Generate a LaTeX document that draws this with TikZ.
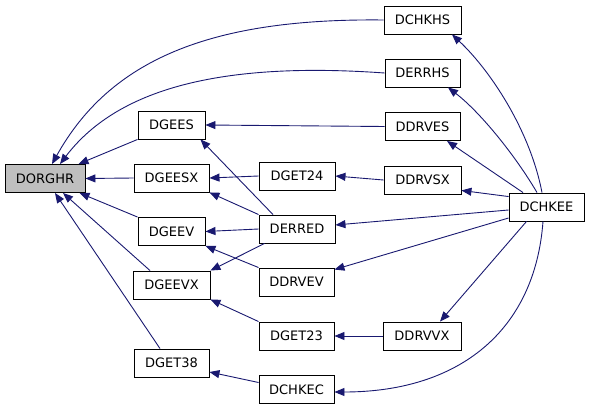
\documentclass[tikz,border=0pt]{standalone}
\usepackage{fontspec}
\setmainfont{DejaVu Sans}
\usetikzlibrary{arrows.meta}
\definecolor{edgeblue}{HTML}{191970}
\definecolor{nodegrey}{HTML}{BFBFBF}
\begin{document}
\begin{tikzpicture}[x=1pt,y=-1pt,
  box/.style={draw=black, fill=white, line width=0.9pt, minimum height=28pt, inner sep=0pt, font=\fontsize{13}{15}\selectfont},
  edge/.style={draw=edgeblue, line width=0.9pt, -{Triangle[length=10pt,width=8pt]}}]
\useasboundingbox (0,0) rectangle (589,409);
\node[box, fill=nodegrey, minimum width=80pt] (DORGHR) at (45,178.5) {DORGHR};
\node[box, minimum width=67pt] (DGEES) at (171.5,125) {DGEES};
\node[box, minimum width=75pt] (DGEESX) at (171.5,178) {DGEESX};
\node[box, minimum width=67pt] (DGEEV) at (171.5,231.5) {DGEEV};
\node[box, minimum width=77pt] (DGEEVX) at (171.5,285) {DGEEVX};
\node[box, minimum width=75pt] (DGET38) at (171.5,363) {DGET38};
\node[box, minimum width=77pt] (DCHKHS) at (422.5,20) {DCHKHS};
\node[box, minimum width=75pt] (DERRHS) at (422.5,73) {DERRHS};
\node[box, minimum width=75pt] (DDRVES) at (422.5,126.5) {DDRVES};
\node[box, minimum width=76pt] (DGET24) at (297,176) {DGET24};
\node[box, minimum width=77pt] (DDRVSX) at (422.5,180) {DDRVSX};
\node[box, minimum width=76pt] (DERRED) at (297,229) {DERRED};
\node[box, minimum width=75pt] (DDRVEV) at (296.5,282) {DDRVEV};
\node[box, minimum width=75pt] (DGET23) at (296.5,336) {DGET23};
\node[box, minimum width=78pt] (DDRVVX) at (422,336) {DDRVVX};
\node[box, minimum width=75pt] (DCHKEC) at (296.5,389.5) {DCHKEC};
\node[box, minimum width=75pt] (DCHKEE) at (546.5,207) {DCHKEE};

\draw[edge] (DCHKHS.west) .. controls (210,18) and (110,60) .. ([xshift=7pt]DORGHR.north);
\draw[edge] (DERRHS.west) .. controls (230,62) and (120,85) .. ([xshift=15pt]DORGHR.north);
\draw[edge] (DGEES.south west) -- ([xshift=-7pt]DORGHR.north east);
\draw[edge] (DGEESX.west) -- (DORGHR.east);
\draw[edge] (DGEEV.north west) -- ([xshift=-6pt]DORGHR.south east);
\draw[edge] ([xshift=-21.5pt]DGEEVX.north) -- ([xshift=18pt]DORGHR.south);
\draw[edge] ([xshift=-11.5pt]DGET38.north) -- ([xshift=10pt]DORGHR.south);
\draw[edge] (DDRVES.west) -- (DGEES.east);
\draw[edge] ([xshift=-24pt]DERRED.north) -- ([xshift=-5pt]DGEES.south east);
\draw[edge] (DGET24.west) -- (DGEESX.east);
\draw[edge] (DERRED.north west) -- (DGEESX.south east);
\draw[edge] (DERRED.west) -- (DGEEV.east);
\draw[edge] (DDRVEV.north west) -- (DGEEV.south east);
\draw[edge] ([xshift=6pt]DERRED.south west) -- (DGEEVX.north east);
\draw[edge] (DGET23.north west) -- (DGEEVX.south east);
\draw[edge] ([yshift=7pt]DCHKEC.west) -- ([yshift=-9pt]DGET38.east);
\draw[edge] (DDRVSX.west) -- (DGET24.east);
\draw[edge] ([yshift=-3pt]DCHKEE.west) -- ([yshift=4pt]DERRED.east);
\draw[edge] ([yshift=-11pt]DCHKEE.west) -- ([yshift=-2pt]DDRVEV.north east);
\draw[edge] ([xshift=-20pt]DCHKEE.south) -- ([xshift=18pt]DDRVVX.north);
\draw[edge] (DDRVVX.west) -- (DGET23.east);
\draw[edge] ([xshift=-3.5pt]DCHKEE.south) .. controls (535,330) and (460,392) .. ([yshift=-2.5pt]DCHKEC.east);
\draw[edge] ([xshift=-4.5pt]DCHKEE.north) .. controls (530,130) and (490,70) .. ([xshift=29.5pt]DCHKHS.south);
\draw[edge] ([xshift=-9.5pt]DCHKEE.north) .. controls (515,155) and (480,112) .. ([xshift=25.5pt]DERRHS.south);
\draw[edge] ([xshift=-23.5pt]DCHKEE.north) -- ([xshift=24.5pt]DDRVES.south);
\draw[edge] ([yshift=-4pt]DCHKEE.north west) -- ([yshift=4pt]DDRVSX.south east);
\end{tikzpicture}
\end{document}
